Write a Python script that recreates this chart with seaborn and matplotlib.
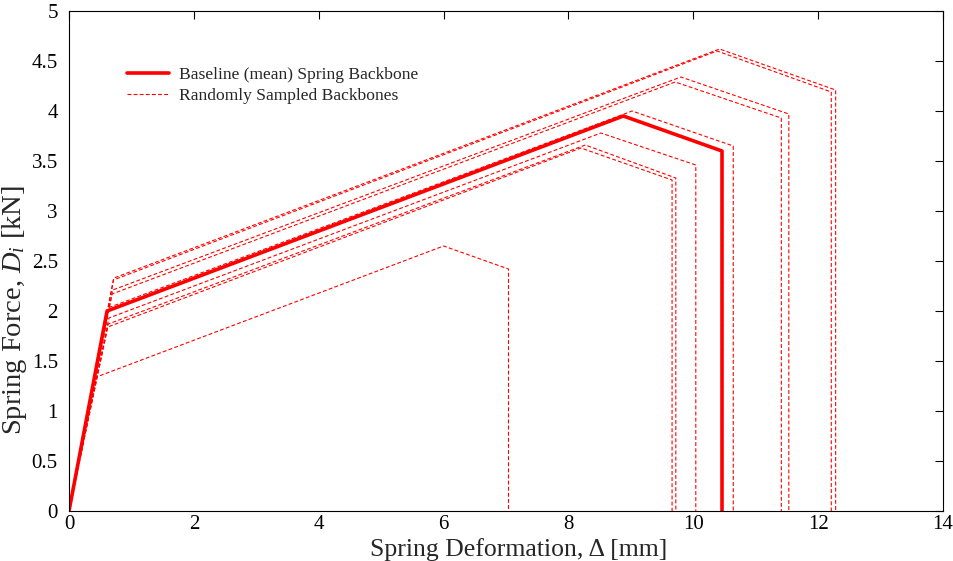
import matplotlib
matplotlib.use("Agg")
import matplotlib.pyplot as plt
import seaborn as sns
import pandas as pd
from matplotlib.lines import Line2D

# Baseline (mean) spring backbone: origin -> yield -> peak -> residual -> drop
base_x = [0.0, 0.61, 8.88, 10.46, 10.46]
base_y = [0.0, 2.00, 3.95, 3.60, 0.0]

# Randomly sampled backbones (yield, peak and failure points)
knee_x = [0.72, 0.71, 0.70, 0.69, 0.62, 0.64, 0.63, 0.62, 0.44]
knee_y = [2.33, 2.31, 2.21, 2.17, 2.03, 1.93, 1.87, 1.84, 1.34]
peak_x = [10.42, 10.38, 9.80, 9.71, 9.02, 8.52, 8.27, 8.20, 6.00]
peak_y = [4.62, 4.60, 4.34, 4.29, 4.00, 3.78, 3.66, 3.63, 2.65]
drop_x = [12.28, 12.21, 11.53, 11.41, 10.64, 10.04, 9.72, 9.66, 7.04]
drop_y = [4.21, 4.19, 3.97, 3.93, 3.65, 3.46, 3.33, 3.31, 2.42]

x_ticks = [0, 2, 4, 6, 8, 10, 12, 14]
y_ticks = [0, 0.5, 1, 1.5, 2, 2.5, 3, 3.5, 4, 4.5, 5]
y_tick_labels = ["0", "0.5", "1", "1.5", "2", "2.5", "3", "3.5", "4", "4.5", "5"]

rows = []
for i in range(len(knee_x)):
    xs = [0.0, knee_x[i], peak_x[i], drop_x[i], drop_x[i]]
    ys = [0.0, knee_y[i], peak_y[i], drop_y[i], 0.0]
    for order, (xv, yv) in enumerate(zip(xs, ys)):
        rows.append({"sample": i, "order": order, "deformation": xv, "force": yv})
samples = pd.DataFrame(rows)
baseline = pd.DataFrame({"deformation": base_x, "force": base_y})

sns.set_style("white")
plt.rcParams["font.family"] = ["Liberation Serif", "DejaVu Serif"]
plt.rcParams["mathtext.fontset"] = "custom"
plt.rcParams["mathtext.it"] = "Liberation Serif:italic"
plt.rcParams["mathtext.rm"] = "Liberation Serif"

fig = plt.figure(figsize=(9.54, 5.61), dpi=100)
ax = fig.add_axes([0.0723, 0.0891, 0.9162, 0.8913])

dash = (0, (3.5, 2.0))
sns.lineplot(data=samples, x="deformation", y="force", units="sample",
             estimator=None, sort=False, color="#ff0000", linewidth=0.8,
             linestyle=dash, ax=ax, legend=False)
sns.lineplot(data=baseline, x="deformation", y="force", sort=False,
             estimator=None, color="#ff0000", linewidth=2.6, ax=ax,
             legend=False)

ax.set_xlim(0, 14)
ax.set_ylim(0, 5)
ax.set_xticks(x_ticks)
ax.set_yticks(y_ticks)
ax.set_yticklabels(y_tick_labels)
ax.tick_params(direction="in", length=6, width=0.8, labelsize=15,
               top=True, right=True, colors="black")
ax.tick_params(axis="x", pad=3)
ax.tick_params(axis="y", pad=8)
for side in ax.spines.values():
    side.set_color("black")
    side.set_linewidth(0.8)

ax.set_xlabel("Spring Deformation, Δ [mm]", fontsize=18.5)
ax.set_ylabel("Spring Force, $D_i$ [kN]", fontsize=20.5)
ax.xaxis.set_label_coords(0.514, -0.054)
ax.yaxis.set_label_coords(-0.046, 0.402)

handles = [
    Line2D([], [], color="#ff0000", linewidth=2.6),
    Line2D([], [], color="#ff0000", linewidth=0.8, linestyle=dash),
]
ax.legend(handles, ["Baseline (mean) Spring Backbone",
                    "Randomly Sampled Backbones"],
          loc="upper left", bbox_to_anchor=(0.0584, 0.903), frameon=False,
          fontsize=12.6, handlelength=2.4, handletextpad=0.55,
          labelspacing=0.3, borderaxespad=0)

fig.savefig("out.png", dpi=100)
